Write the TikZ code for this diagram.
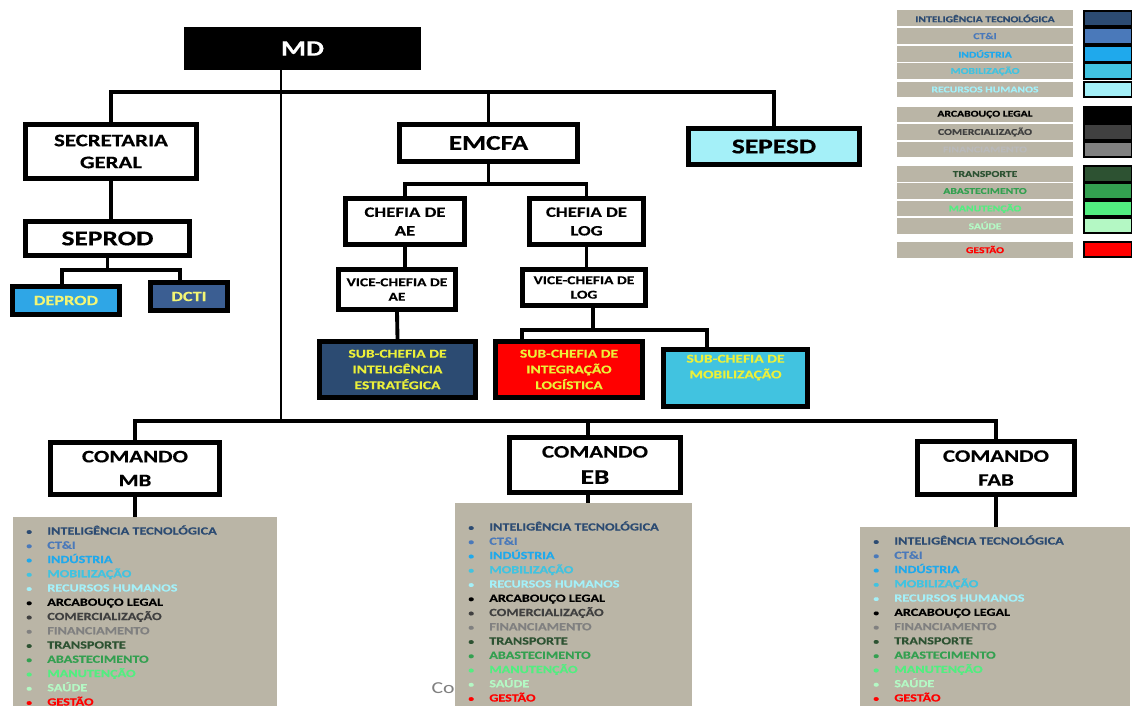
\documentclass[tikz,border=0pt]{standalone}
\usepackage{fontspec}
\setmainfont{Carlito}[FakeStretch=1.3,BoldFeatures={FakeBold=0.4}]
\usetikzlibrary{positioning}
\definecolor{IntelNavy}{HTML}{2C4B72}
\definecolor{CtiBlue}{HTML}{4A79BA}
\definecolor{IndBlue}{HTML}{1FA9EC}
\definecolor{MobCyan}{HTML}{41C3E0}
\definecolor{RhCyan}{HTML}{A4F0F8}
\definecolor{ComGray}{HTML}{404040}
\definecolor{FinGray}{HTML}{808080}
\definecolor{TraGreen}{HTML}{2D5232}
\definecolor{AbaGreen}{HTML}{33A050}
\definecolor{ManGreen}{HTML}{52EE80}
\definecolor{SauGreen}{HTML}{B4F8C4}
\definecolor{GesRed}{HTML}{FF0000}
\definecolor{Greige}{HTML}{BAB5A6}
\definecolor{SubYellow}{HTML}{ECF03A}
\definecolor{DeprodBlue}{HTML}{2FA6E6}
\definecolor{DctiBlue}{HTML}{3B5E92}

\def\eixosMB{INTELIGÊNCIA TECNOLÓGICA/IntelNavy, CT\&I/CtiBlue, INDÚSTRIA/IndBlue,
  MOBILIZAÇÃO/MobCyan, RECURSOS HUMANOS/RhCyan, ARCABOUÇO LEGAL/black,
  COMERCIALIZAÇÃO/ComGray, FINANCIAMENTO/FinGray, TRANSPORTE/TraGreen,
  ABASTECIMENTO/AbaGreen, MANUTENÇÃO/ManGreen, SAÚDE/SauGreen, GESTÃO/GesRed}
\def\eixosFAB{INTELIGÊNCIA TECNOLÓGICA/IntelNavy, CT\&I/CtiBlue, INDÚSTRIA/IndBlue,
  MOBILIZAÇÃO/MobCyan, RECURSOS HUMANOS/RhCyan, ARCABOUÇO LEGAL/black,
  FINANCIAMENTO/FinGray, TRANSPORTE/TraGreen,
  ABASTECIMENTO/AbaGreen, MANUTENÇÃO/ManGreen, SAÚDE/SauGreen, GESTÃO/GesRed}

\begin{document}
\begin{tikzpicture}[x=0.02cm,y=-0.02cm,
      orgbox/.style={draw=black,line width=3pt,fill=white,align=center,inner sep=1pt},
      subbox/.style={orgbox,text=SubYellow,font=\fontsize{6.8}{9}\selectfont\bfseries},
      link/.style={line width=2.2pt},
      listbox/.style={fill=Greige,anchor=north west,inner sep=0pt},
      eixo/.style={anchor=base west,inner sep=0pt,font=\fontsize{6.2}{7}\selectfont\bfseries},
      eixodot/.style={anchor=base west,inner sep=0pt,font=\fontsize{5}{6}\selectfont\bfseries},
      legtxt/.style={fill=Greige,minimum width=3.52cm,minimum height=0.32cm,inner sep=0pt,
      font=\fontsize{5.1}{6}\selectfont\bfseries},
      swatch/.style={draw=black,line width=0.9pt,minimum width=0.96cm,minimum height=0.31cm,inner sep=0pt}]
      \fill[white] (0,0) rectangle (1132,706);
      \useasboundingbox (0,0) rectangle (1132,706);
      \node[fill=black,minimum width=4.74cm,minimum height=0.86cm,text=white,
        font=\fontsize{12.5}{14}\selectfont\bfseries] (md) at (302.5,48.5) {MD};
      \node[orgbox,minimum width=3.42cm,minimum height=1.08cm,font=\fontsize{10}{12.5}\selectfont\bfseries]
        (sg) at (111,151.5) {SECRETARIA\\GERAL};
      \node[orgbox,minimum width=3.28cm,minimum height=0.68cm,font=\fontsize{12}{14}\selectfont\bfseries]
        (seprod) at (107.5,238.5) {SEPROD};
      \node[orgbox,fill=DeprodBlue,text=SubYellow!70!white,minimum width=2.14cm,minimum height=0.56cm,
        font=\fontsize{8}{9}\selectfont\bfseries] (deprod) at (66,300.5) {DEPROD};
      \node[orgbox,fill=DctiBlue,text=SubYellow!70!white,minimum width=1.54cm,minimum height=0.56cm,
        font=\fontsize{8}{9}\selectfont\bfseries] (dcti) at (189,296.5) {DCTI};
      \node[orgbox,minimum width=3.56cm,minimum height=0.74cm,font=\fontsize{12}{14}\selectfont\bfseries]
        (emcfa) at (488.5,143) {EMCFA};
      \node[orgbox,fill=RhCyan,minimum width=3.42cm,minimum height=0.72cm,font=\fontsize{12}{14}\selectfont\bfseries]
        (sepesd) at (774,146.5) {SEPESD};
      \node[orgbox,minimum width=2.38cm,minimum height=0.92cm,font=\fontsize{8.2}{10.6}\selectfont\bfseries]
        (chae) at (405,221.5) {CHEFIA DE\\AE};
      \node[orgbox,minimum width=2.28cm,minimum height=0.92cm,font=\fontsize{8.2}{10.6}\selectfont\bfseries]
        (chlog) at (586.5,221.5) {CHEFIA DE\\LOG};
      \node[orgbox,minimum width=2.34cm,minimum height=0.8cm,font=\fontsize{6.8}{8.2}\selectfont\bfseries]
        (vcae) at (397,289.5) {VICE-CHEFIA DE\\AE};
      \node[orgbox,minimum width=2.46cm,minimum height=0.72cm,font=\fontsize{6.8}{8.2}\selectfont\bfseries]
        (vclog) at (584,287.5) {VICE-CHEFIA DE\\LOG};
      \node[subbox,fill=IntelNavy,minimum width=3.12cm,minimum height=1.12cm]
        (subie) at (397.5,369.5) {SUB-CHEFIA DE\\INTELIGÊNCIA\\ESTRATÉGICA};
      \node[subbox,fill=GesRed,minimum width=2.94cm,minimum height=1.12cm]
        (subil) at (569,369.5) {SUB-CHEFIA DE\\INTEGRAÇÃO\\LOGÍSTICA};
      \node[subbox,fill=MobCyan,minimum width=2.88cm,minimum height=1.14cm]
        (submob) at (735.5,378) {SUB-CHEFIA DE\\MOBILIZAÇÃO\\[4pt]};
      \node[orgbox,minimum width=3.38cm,minimum height=1.04cm,font=\fontsize{10}{13.6}\selectfont\bfseries]
        (mb) at (135,468.5) {COMANDO\\MB};
      \node[orgbox,minimum width=3.42cm,minimum height=1.1cm,font=\fontsize{10}{15}\selectfont\bfseries]
        (eb) at (595,465) {COMANDO\\{\fontsize{12}{14}\selectfont EB}};
      \node[orgbox,minimum width=3.14cm,minimum height=1.06cm,font=\fontsize{10}{13.6}\selectfont\bfseries]
        (fab) at (996,468) {COMANDO\\FAB};
      \node[text=FinGray,anchor=east,inner sep=0pt,font=\fontsize{9.5}{11}\selectfont] (co) at (455,688) {Co};
      \node[listbox,minimum width=5.28cm,minimum height=3.78cm] (mblist) at (13,517) {};
      \node[listbox,minimum width=4.74cm,minimum height=4.06cm] (eblist) at (455,503) {};
      \node[listbox,minimum width=5.4cm,minimum height=3.58cm] (fablist) at (860,527) {};
      \coordinate (topbus) at (0,92);
      \coordinate (sepbus) at (0,270);
      \coordinate (chbus) at (0,184);
      \coordinate (logbus) at (0,330);
      \coordinate (cmdbus) at (0,421);
      \coordinate (mdleg) at ([xshift=-0.43cm]md.south);
      \coordinate (deprodtop) at ([xshift=-0.08cm]deprod.north);
      \coordinate (dctitop) at ([xshift=-0.18cm]dcti.north);
      \coordinate (vclogfoot) at ([xshift=0.18cm]vclog.south);
      \coordinate (subiltop) at ([xshift=-0.94cm]subil.north);
      \coordinate (submobtop) at ([xshift=-0.57cm]submob.north);
      \coordinate (ebfoot) at ([xshift=-0.14cm]eb.south);
      \draw[line width=1.4pt] (mdleg) -- (mdleg |- cmdbus);
      \draw[link] (sg.north) |- (topbus -| sepesd.north) -- (sepesd.north);
      \draw[link] (emcfa.north) -- (emcfa.north |- topbus);
      \draw[link] (sg.south) -- (sg.south |- seprod.north);
      \draw[link] (seprod.south) -- (seprod.south |- sepbus);
      \draw[link] (deprodtop) |- (sepbus -| dctitop) -- (dctitop);
      \draw[link] (emcfa.south) -- (emcfa.south |- chbus);
      \draw[link] (chae.north) |- (chbus -| chlog.north) -- (chlog.north);
      \draw[link] (chae.south) -- (chae.south |- vcae.north);
      \draw[link] (chlog.south) -- (chlog.south |- vclog.north);
      \draw[link] (vcae.south) -- (subie.north);
      \draw[link] (vclogfoot) -- (vclogfoot |- logbus);
      \draw[link] (subiltop) |- (logbus -| submobtop) -- (submobtop);
      \draw[link] (mb.north) |- (cmdbus -| fab.north) -- (fab.north);
      \draw[link] (ebfoot |- eb.north) -- (ebfoot |- cmdbus);
      \draw[link] (mb.south) -- (mb.south |- mblist.north);
      \draw[link] (ebfoot) -- (ebfoot |- eblist.north);
      \draw[link] (fab.south) -- (fab.south |- fablist.north);
      \foreach \txt/\col [count=\i from 0] in \eixosMB {
        \node[eixodot,text=\col] at (26,534.5+14.25*\i) {•};
        \node[eixo,text=\col] at (47,534.5+14.25*\i) {\txt};
      }
      \foreach \txt/\col [count=\i from 0] in \eixosMB {
        \node[eixodot,text=\col] at (468,530.5+14.25*\i) {•};
        \node[eixo,text=\col] at (489,530.5+14.25*\i) {\txt};
      }
      \foreach \txt/\col [count=\i from 0] in \eixosFAB {
        \node[eixodot,text=\col] at (873,544.5+14.27*\i) {•};
        \node[eixo,text=\col] at (894,544.5+14.27*\i) {\txt};
      }
      \foreach \txt/\col/\swcol/\yc [count=\i] in {INTELIGÊNCIA TECNOLÓGICA/IntelNavy/IntelNavy/18.5,
        CT\&I/CtiBlue/CtiBlue/36, INDÚSTRIA/IndBlue/IndBlue/54, MOBILIZAÇÃO/MobCyan/MobCyan/71,
        RECURSOS HUMANOS/RhCyan/RhCyan/89.5, ARCABOUÇO LEGAL/black/black/114.5,
        COMERCIALIZAÇÃO/ComGray/ComGray/132, FINANCIAMENTO/FinGray!55/FinGray/149.5,
        TRANSPORTE/TraGreen/TraGreen/174, ABASTECIMENTO/AbaGreen/AbaGreen/191,
        MANUTENÇÃO/ManGreen/ManGreen/208.5, SAÚDE/SauGreen/SauGreen/225.5, GESTÃO/GesRed/GesRed/249.5} {
        \node[legtxt,text=\col] (leg\i) at (985,\yc) {\txt};
        \node[swatch,fill=\swcol,right=0.2cm of leg\i] (sw\i) {};
      }
    \end{tikzpicture}
\end{document}
